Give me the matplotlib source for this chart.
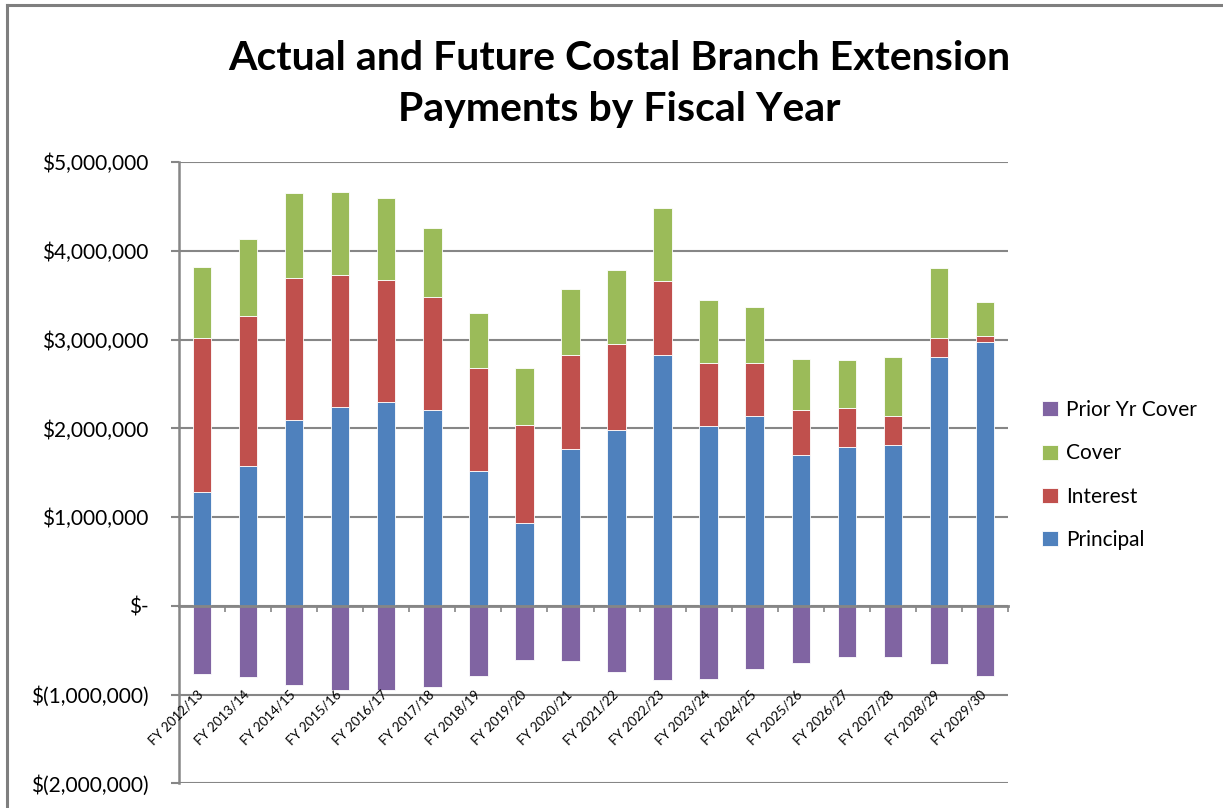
import numpy as np
import matplotlib
matplotlib.use('Agg')
import matplotlib.pyplot as plt
from matplotlib import font_manager
from matplotlib.lines import Line2D
from matplotlib.ticker import FuncFormatter, MultipleLocator

years = ['FY 2012/13', 'FY 2013/14', 'FY 2014/15', 'FY 2015/16', 'FY 2016/17',
         'FY 2017/18', 'FY 2018/19', 'FY 2019/20', 'FY 2020/21', 'FY 2021/22',
         'FY 2022/23', 'FY 2023/24', 'FY 2024/25', 'FY 2025/26', 'FY 2026/27',
         'FY 2027/28', 'FY 2028/29', 'FY 2029/30']

# values in dollars
principal = [1281000, 1575000, 2099000, 2242000, 2298000, 2208000, 1515000, 931000, 1771000,
             1986000, 2826000, 2023000, 2136000, 1699000, 1790000, 1809000, 2807000, 2977000]
interest = [1741000, 1688000, 1597000, 1492000, 1379000, 1274000, 1164000, 1111000, 1055000,
            964000, 836000, 712000, 599000, 509000, 437000, 327000, 215000, 64000]
cover = [802000, 874000, 954000, 931000, 916000, 783000, 618000, 637000, 746000,
         840000, 818000, 709000, 637000, 580000, 542000, 671000, 787000, 384000]
prior_cover = [-765000, -802000, -896000, -948000, -948000, -914000, -787000, -608000, -627000,
               -750000, -840000, -825000, -716000, -642000, -571000, -571000, -660000, -787000]

c_principal = '#4F81BD'
c_interest = '#C0504D'
c_cover = '#9BBB59'
c_prior = '#8064A2'
grid_col = '#868686'

names = {f.name for f in font_manager.fontManager.ttflist}
if 'Liberation Sans Narrow' in names:
    title_font, title_size = 'Liberation Sans Narrow', 29
else:
    title_font, title_size = 'Lato', 29.5
plt.rcParams['font.family'] = ['Lato', 'DejaVu Sans']

fig = plt.figure(figsize=(12.23, 8.08), dpi=100)
ax = fig.add_axes([179 / 1223, 1 - 783.3 / 808, (1008 - 179) / 1223, (783.3 - 162.3) / 808])

x = np.arange(len(years))
w = 0.4
principal = np.array(principal)
interest = np.array(interest)
cover = np.array(cover)
prior_cover = np.array(prior_cover)

edge = dict(edgecolor='white', linewidth=0.6, zorder=3)
b_pr = ax.bar(x, principal, w, color=c_principal, label='Principal', **edge)
b_in = ax.bar(x, interest, w, bottom=principal, color=c_interest, label='Interest', **edge)
b_co = ax.bar(x, cover, w, bottom=principal + interest, color=c_cover, label='Cover', **edge)
b_pc = ax.bar(x, prior_cover, w, color=c_prior, label='Prior Yr Cover', **edge)

ax.set_xlim(-0.5, len(years) - 0.5)
ax.set_ylim(-2000000, 5000000)
ax.yaxis.set_major_locator(MultipleLocator(1000000))


def money(v, pos):
    if abs(v) < 1:
        return '$-'
    if v < 0:
        return '$({:,.0f})'.format(-v)
    return '${:,.0f}'.format(v)


ax.yaxis.set_major_formatter(FuncFormatter(money))
ax.yaxis.grid(True, color=grid_col, linewidth=1.5)
ax.set_axisbelow(True)
ax.tick_params(axis='y', length=6, width=1.5, color=grid_col, labelsize=15, pad=16)

for s in ['top', 'right']:
    ax.spines[s].set_visible(False)
ax.spines['left'].set_color(grid_col)
ax.spines['left'].set_linewidth(1.8)
ax.spines['bottom'].set_position(('data', 0))
ax.spines['bottom'].set_color(grid_col)
ax.spines['bottom'].set_linewidth(2)
ax.spines['bottom'].set_zorder(4)
ax.set_xticks(np.arange(len(years)) + 0.5)
ax.set_xticklabels([])
ax.tick_params(axis='x', length=4, width=1.2, color=grid_col, direction='out')

for i, lab in enumerate(years):
    ax.text(i + 0.08, -930000, lab, rotation=45, ha='right', va='top', fontsize=9.5)

ax.legend(handles=[b_pc, b_co, b_in, b_pr], loc='center left',
          bbox_to_anchor=(0.852, 0.412), bbox_transform=fig.transFigure,
          frameon=False, fontsize=15, handlelength=0.75, handleheight=0.75,
          handletextpad=0.4, labelspacing=1.12, borderpad=0, borderaxespad=0)

fig.text(0.506, 1 - 70 / 808, 'Actual and Future Costal Branch Extension', ha='center',
         va='baseline', fontsize=title_size, fontweight='bold', family=[title_font, 'Lato'])
fig.text(0.506, 1 - 121 / 808, 'Payments by Fiscal Year', ha='center',
         va='baseline', fontsize=title_size, fontweight='bold', family=[title_font, 'Lato'])

# chart frame (left and top edges visible)
fig.add_artist(Line2D([6.5 / 1223, 6.5 / 1223], [0, 1 - 5 / 808], color='#7f7f7f', linewidth=2.2))
fig.add_artist(Line2D([6.5 / 1223, 1], [1 - 5 / 808, 1 - 5 / 808], color='#7f7f7f', linewidth=2.2))

fig.savefig('out.png', dpi=100)
